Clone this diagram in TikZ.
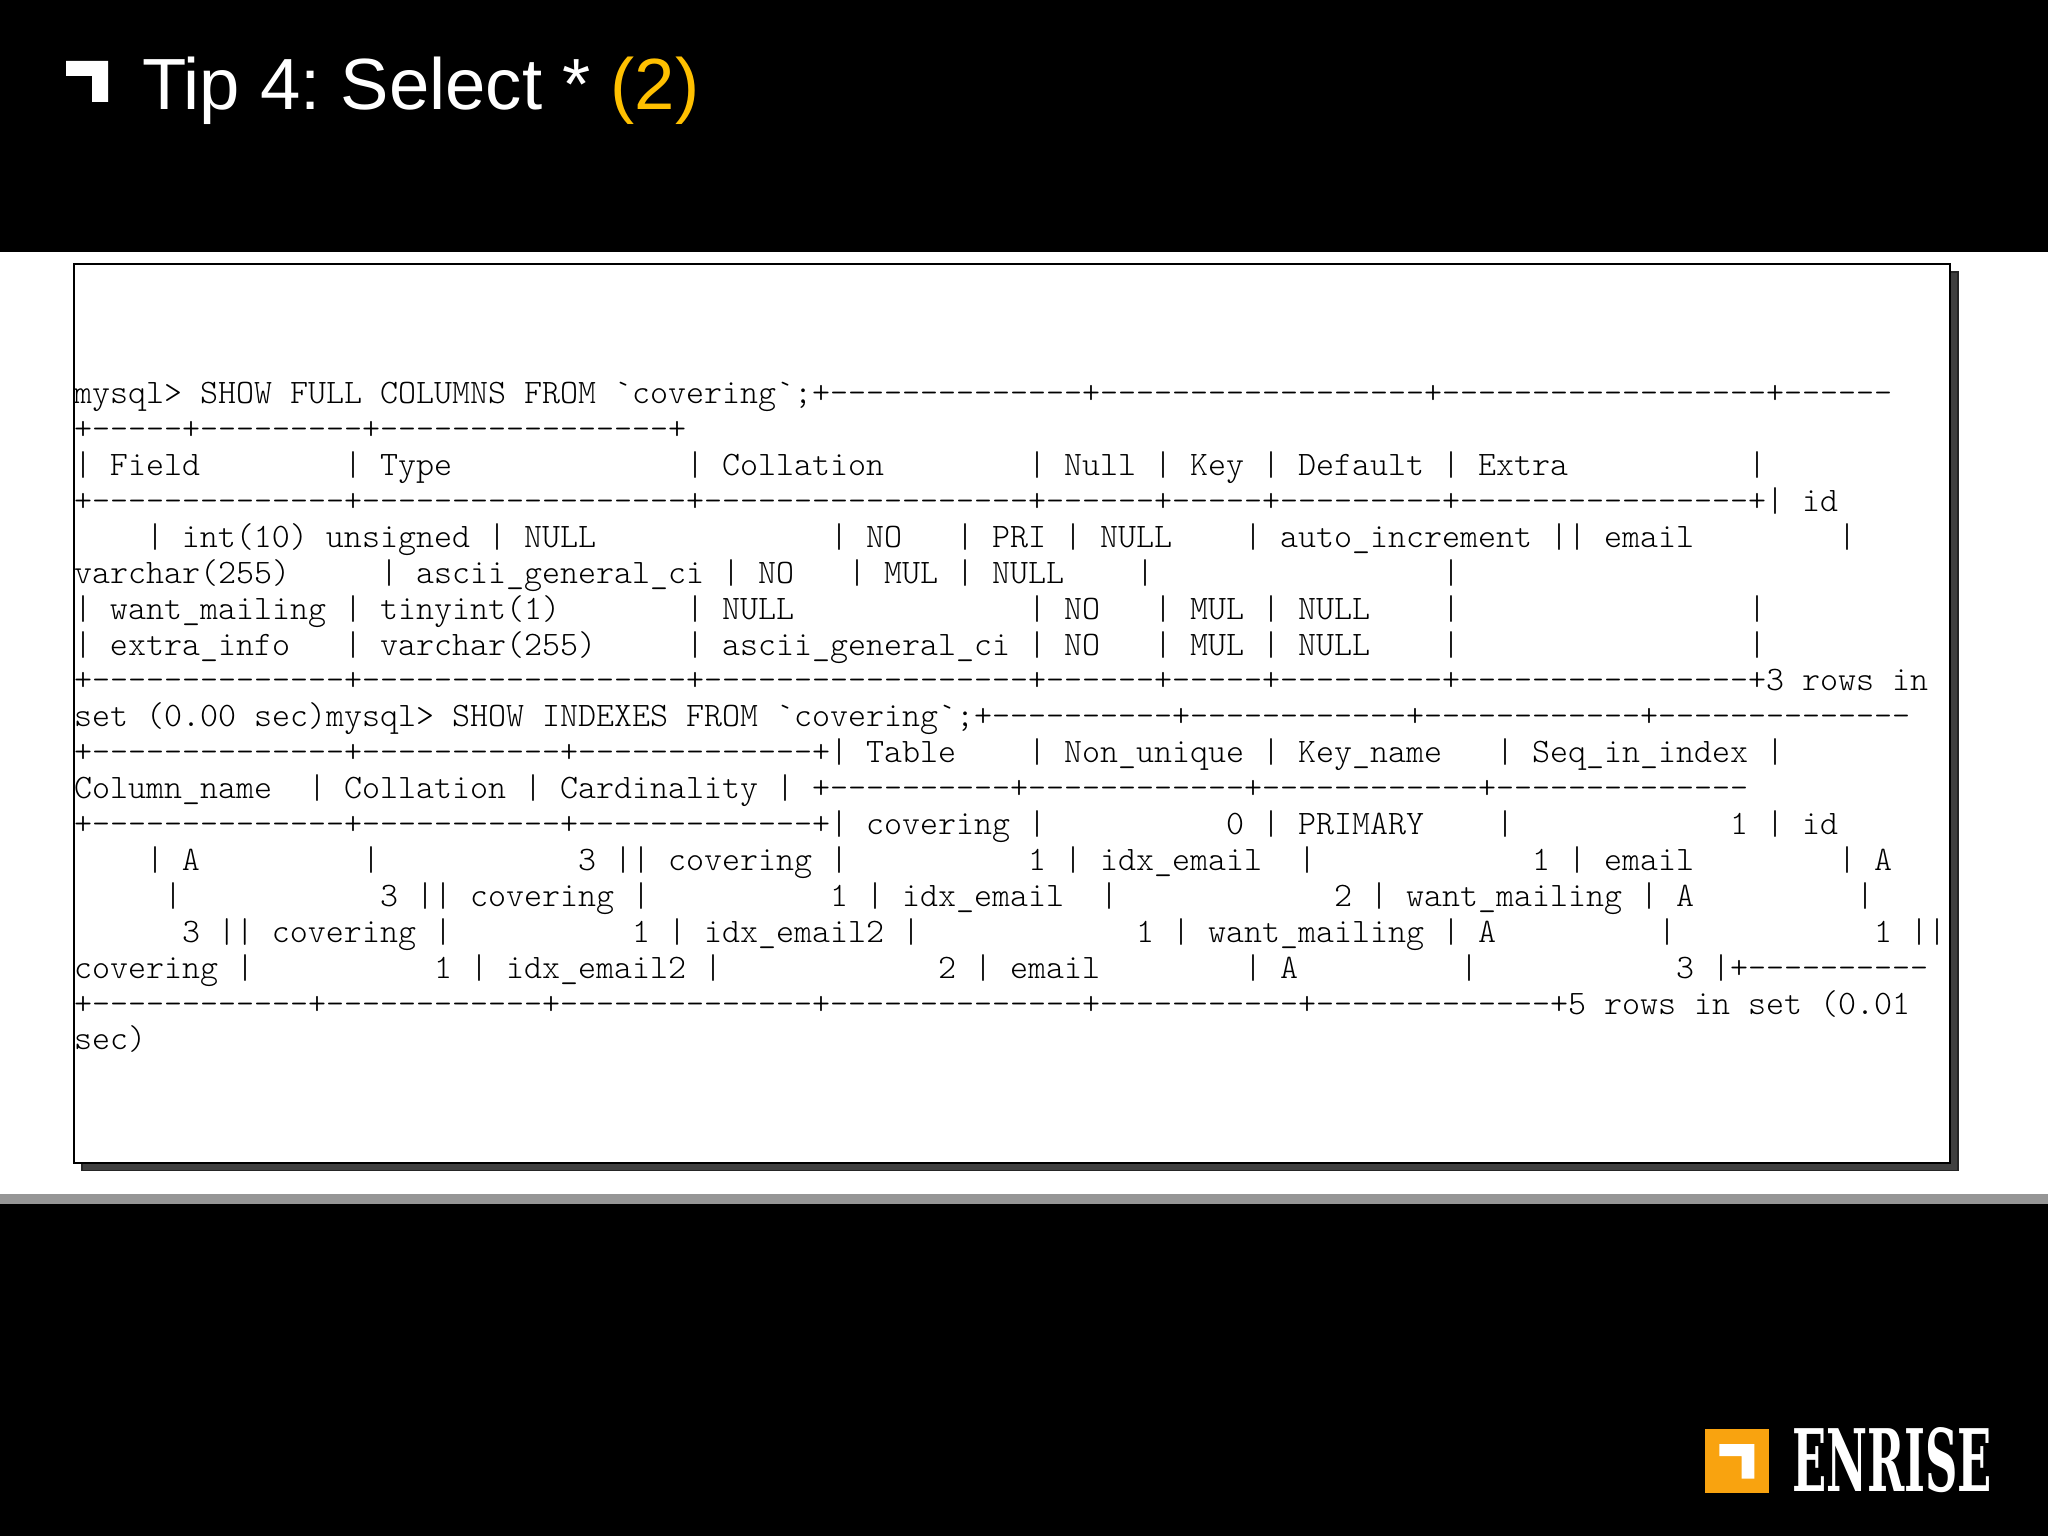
\documentclass[tikz,border=0pt]{standalone}
\usepackage{fontspec}
\usepackage{graphicx}
\setmainfont{Liberation Sans}
\newfontfamily\logofont{DejaVu Serif}
\newfontfamily\codefont{Latin Modern Mono Light}
\definecolor{titlegold}{HTML}{FFC000}
\definecolor{logoorange}{HTML}{F9A30F}
\definecolor{bandgrey}{HTML}{969696}
\definecolor{shadowgrey}{HTML}{404040}
\frenchspacing
\tikzset{
  codeline/.style={anchor=base west,inner sep=0pt,outer sep=0pt,text=black,font=\codefont\fontsize{34.29}{36}\selectfont,yshift=-1.2pt},
  titletext/.style={anchor=base west,inner sep=0pt,outer sep=0pt,text=white,font=\fontsize{72.5}{80}\selectfont},
  logotext/.style={anchor=south west,inner sep=0pt,outer sep=0pt,text=white}
}
\begin{document}
\begin{tikzpicture}[x=1pt,y=-1pt]
\useasboundingbox (0,0) rectangle (2048,1536);
\fill[white] (0,0) rectangle (2048,1536);
\fill[black] (0,0) rectangle (2048,252);
\fill[bandgrey] (0,1194) rectangle (2048,1204);
\fill[black] (0,1204) rectangle (2048,1536);
% title
\fill[white] (66,61) -- (108,61) -- (108,102) -- (92,102) -- (92,76) -- (66,76) -- cycle;
\node[titletext] (title) at (142,110) {Tip 4: Select * \textcolor{titlegold}{(2)}};
% code box
\draw[draw=black!85,fill=shadowgrey,line width=1.5pt] (82,272) rectangle (1958,1170.5);
\draw[draw=black,fill=white,line width=2pt] (74,264) rectangle (1950,1162.5);
% code lines
\node[codeline] (l1) at (74,402.5) {mysql>~SHOW~FULL~COLUMNS~FROM~`covering`;+--------------+------------------+------------------+------};
\node[codeline] (l2) at (74,438.4) {+-----+---------+----------------+};
\node[codeline] (l3) at (74,474.3) {|~Field~~~~~~~~|~Type~~~~~~~~~~~~~|~Collation~~~~~~~~|~Null~|~Key~|~Default~|~Extra~~~~~~~~~~|};
\node[codeline] (l4) at (74,510.2) {+--------------+------------------+------------------+------+-----+---------+----------------+|~id};
\node[codeline] (l5) at (74,546.1) {~~~~|~int(10)~unsigned~|~NULL~~~~~~~~~~~~~|~NO~~~|~PRI~|~NULL~~~~|~auto\_increment~||~email~~~~~~~~|};
\node[codeline] (l6) at (74,582.0) {varchar(255)~~~~~|~ascii\_general\_ci~|~NO~~~|~MUL~|~NULL~~~~|~~~~~~~~~~~~~~~~|};
\node[codeline] (l7) at (74,617.9) {|~want\_mailing~|~tinyint(1)~~~~~~~|~NULL~~~~~~~~~~~~~|~NO~~~|~MUL~|~NULL~~~~|~~~~~~~~~~~~~~~~|};
\node[codeline] (l8) at (74,653.8) {|~extra\_info~~~|~varchar(255)~~~~~|~ascii\_general\_ci~|~NO~~~|~MUL~|~NULL~~~~|~~~~~~~~~~~~~~~~|};
\node[codeline] (l9) at (74,689.7) {+--------------+------------------+------------------+------+-----+---------+----------------+3~rows~in};
\node[codeline] (l10) at (74,725.6) {set~(0.00~sec)mysql>~SHOW~INDEXES~FROM~`covering`;+----------+------------+------------+--------------};
\node[codeline] (l11) at (74,761.5) {+--------------+-----------+-------------+|~Table~~~~|~Non\_unique~|~Key\_name~~~|~Seq\_in\_index~|};
\node[codeline] (l12) at (74,797.4) {Column\_name~~|~Collation~|~Cardinality~|~+----------+------------+------------+--------------};
\node[codeline] (l13) at (74,833.3) {+--------------+-----------+-------------+|~covering~|~~~~~~~~~~0~|~PRIMARY~~~~|~~~~~~~~~~~~1~|~id};
\node[codeline] (l14) at (74,869.2) {~~~~|~A~~~~~~~~~|~~~~~~~~~~~3~||~covering~|~~~~~~~~~~1~|~idx\_email~~|~~~~~~~~~~~~1~|~email~~~~~~~~|~A};
\node[codeline] (l15) at (74,905.1) {~~~~~|~~~~~~~~~~~3~||~covering~|~~~~~~~~~~1~|~idx\_email~~|~~~~~~~~~~~~2~|~want\_mailing~|~A~~~~~~~~~|};
\node[codeline] (l16) at (74,941.0) {~~~~~~3~||~covering~|~~~~~~~~~~1~|~idx\_email2~|~~~~~~~~~~~~1~|~want\_mailing~|~A~~~~~~~~~|~~~~~~~~~~~1~||};
\node[codeline] (l17) at (74,976.9) {covering~|~~~~~~~~~~1~|~idx\_email2~|~~~~~~~~~~~~2~|~email~~~~~~~~|~A~~~~~~~~~|~~~~~~~~~~~3~|+----------};
\node[codeline] (l18) at (74,1012.8) {+------------+------------+--------------+--------------+-----------+-------------+5~rows~in~set~(0.01};
\node[codeline] (l19) at (74,1048.7) {sec)};
% logo
\fill[logoorange] (1705,1429) rectangle (1768.5,1493);
\fill[white] (1719.3,1444) -- (1754.3,1444) -- (1754.3,1478.5) -- (1741.7,1478.5) -- (1741.7,1456) -- (1719.3,1456) -- cycle;
\node[logotext] (logo) at (1792,1493) {\resizebox{200pt}{64pt}{\logofont\bfseries ENRISE}};
\end{tikzpicture}
\end{document}
